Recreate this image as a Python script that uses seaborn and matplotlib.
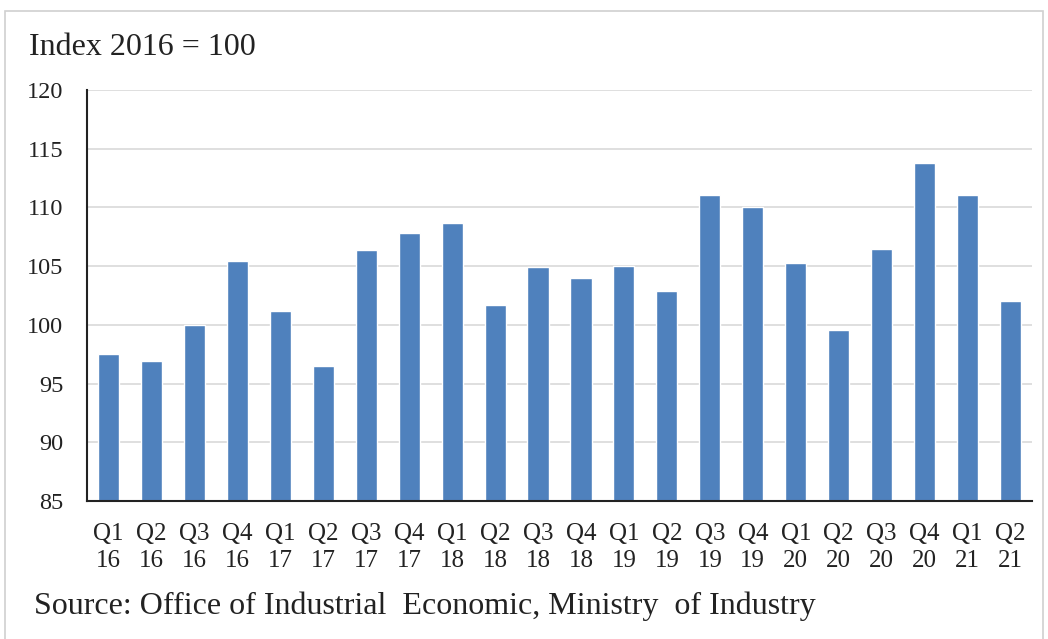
import matplotlib
matplotlib.use("Agg")
import matplotlib.pyplot as plt
import seaborn as sns
import pandas as pd
from matplotlib.patches import Rectangle

# Quarterly index values (2016 = 100)
quarters = ["Q1", "Q2", "Q3", "Q4", "Q1", "Q2", "Q3", "Q4", "Q1", "Q2", "Q3",
            "Q4", "Q1", "Q2", "Q3", "Q4", "Q1", "Q2", "Q3", "Q4", "Q1", "Q2"]
years = ["16", "16", "16", "16", "17", "17", "17", "17", "18", "18", "18",
         "18", "19", "19", "19", "19", "20", "20", "20", "20", "21", "21"]
index_values = [97.5, 96.9, 100.0, 105.4, 101.2, 96.5, 106.4, 107.8, 108.7, 101.7, 104.9,
                104.0, 105.05, 102.9, 111.05, 110.0, 105.3, 99.6, 106.5, 113.75, 111.05, 102.0]
y_ticks = [85, 90, 95, 100, 105, 110, 115, 120]

labels = [f"{q}\n{y}" for q, y in zip(quarters, years)]
df = pd.DataFrame({"period": labels, "index": index_values})

sns.set_theme(style="white")
plt.rcParams["font.family"] = ["Liberation Serif", "DejaVu Serif"]

W, H = 1048, 639
fig = plt.figure(figsize=(W / 100, H / 100), dpi=100)
ax = fig.add_axes([87 / W, 1 - 501 / H, (1032 - 87) / W, (501 - 90) / H])

sns.barplot(data=df, x="period", y="index", order=labels, color="#4F81BD",
            saturation=1, width=0.49, ax=ax, zorder=3)

ax.set_ylim(85, 120)
ax.set_yticks(y_ticks)
ax.set_xlim(-0.5, len(labels) - 0.5)
ax.set_xlabel("")
ax.set_ylabel("")
ax.grid(axis="y", color="#d9d9d9", linewidth=1.2, zorder=0)
ax.grid(axis="x", visible=False)
for side in ("top", "right"):
    ax.spines[side].set_visible(False)
for side in ("left", "bottom"):
    ax.spines[side].set_color("#222222")
    ax.spines[side].set_linewidth(1.5)
    ax.spines[side].set_zorder(4)
ax.tick_params(axis="y", length=0, pad=17, labelsize=17.5, labelcolor="#222222")
ax.tick_params(axis="x", length=0, pad=16, labelsize=18, labelcolor="#222222")
for t in ax.get_xticklabels():
    t.set_linespacing(1.3)

fig.text(29 / W, 1 - 55 / H, "Index 2016 = 100", fontsize=23, color="#222222",
         va="baseline", ha="left")
fig.text(34 / W, 1 - 614 / H,
         "Source: Office of Industrial  Economic, Ministry  of Industry",
         fontsize=23, color="#222222", va="baseline", ha="left")

# light frame around the chart area
fig.patches.append(Rectangle((5 / W, -0.05), (1043 - 5) / W, 1 - 11 / H + 0.05,
                             transform=fig.transFigure, fill=False,
                             edgecolor="#d0d0d0", linewidth=1.2))

fig.savefig("out.png", dpi=100)
